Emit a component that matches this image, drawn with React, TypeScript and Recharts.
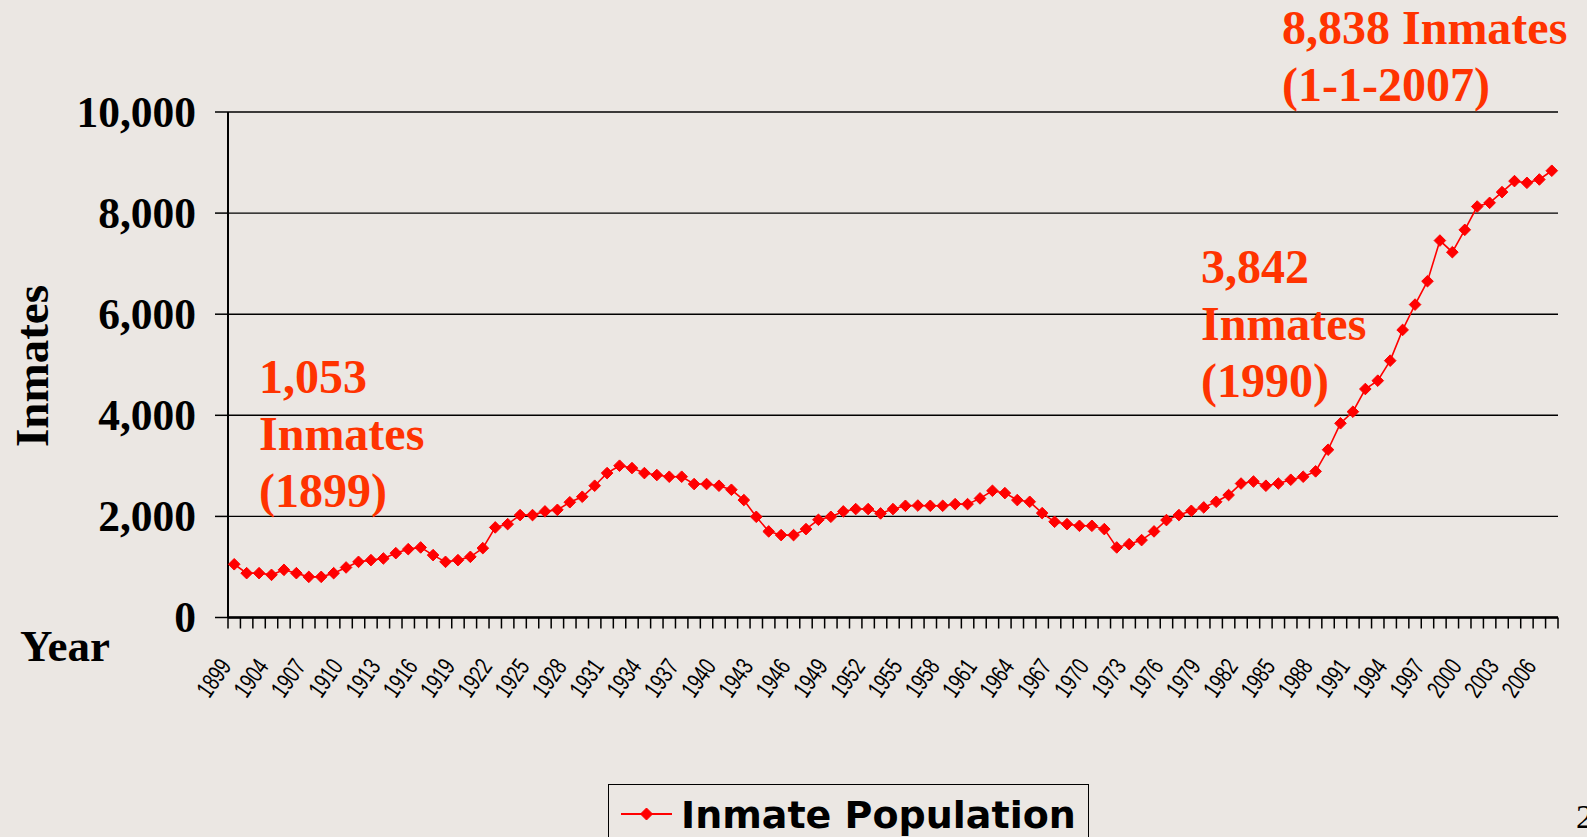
import { LineChart, Line, XAxis, YAxis, CartesianGrid, Legend } from 'recharts';

// Year categories (1900/1901 are missing from the source table)
const YEARS = [1899, 1902, 1903, ...Array.from({ length: 104 }, (_, i) => 1904 + i)];

// Inmate population per year
const INMATES = [
  1053, 877, 877, 844, 943, 877, 804, 804, 877, 990,
  1101, 1135, 1168, 1273, 1352, 1386, 1234, 1101, 1135, 1200,
  1372, 1782, 1847, 2026, 2026, 2099, 2130, 2280, 2389, 2607,
  2857, 3003, 2956, 2857, 2818, 2785, 2785, 2640, 2640, 2607,
  2527, 2323, 1992, 1703, 1630, 1630, 1749, 1933, 1992, 2099,
  2145, 2145, 2059, 2145, 2210, 2215, 2210, 2210, 2243, 2243,
  2356, 2507, 2461, 2323, 2289, 2065, 1893, 1847, 1814, 1814,
  1749, 1386, 1451, 1531, 1703, 1927, 2026, 2111, 2178, 2289,
  2422, 2650, 2690, 2607, 2650, 2725, 2785, 2891, 3319, 3842,
  4071, 4520, 4685, 5081, 5689, 6190, 6653, 7457, 7227, 7669,
  8130, 8203, 8415, 8633, 8599, 8665, 8838,
];

const Y_TICKS = [0, 2000, 4000, 6000, 8000, 10000];
const LABEL_EVERY = 3;

const NOTES = [
  { left: 259, top: 348, lines: ['1,053', 'Inmates', '(1899)'] },
  { left: 1201, top: 238, lines: ['3,842', 'Inmates', '(1990)'] },
  { left: 1282, top: -1, lines: ['8,838 Inmates', '(1-1-2007)'] },
];

const data = YEARS.map((year, i) => ({ year: String(year), inmates: INMATES[i] }));

const W = 1587;
const H = 837;
const PLOT_LEFT = 228;
const PLOT_RIGHT = 1558;
const PLOT_TOP = 112;
const PLOT_BOTTOM = 617.5;
const BAND = (PLOT_RIGHT - PLOT_LEFT) / YEARS.length;

const BG = '#EBE7E3';
const RED = '#FF0000';
const NOTE = '#FF3300';
const SERIF = '"Liberation Serif", "Times New Roman", serif';
const SANS = '"Liberation Sans", Arial, sans-serif';

function Diamond({ cx, cy, r = 5.8 }: { cx: number; cy: number; r?: number }) {
  return (
    <polygon
      points={`${cx},${cy - r} ${cx + r},${cy} ${cx},${cy + r} ${cx - r},${cy}`}
      fill={RED}
      stroke={RED}
      strokeWidth={1}
    />
  );
}

function YearTick(props: any) {
  const { x, y, payload, index } = props;
  const i = index ?? payload.index;
  const left = x - BAND / 2;
  const ax = x - 2;
  const ay = y + 49;
  return (
    <g>
      <line x1={left} x2={left} y1={y} y2={y + 11} stroke="#000" strokeWidth={1.5} />
      {i === YEARS.length - 1 && (
        <line x1={x + BAND / 2} x2={x + BAND / 2} y1={y} y2={y + 11} stroke="#000" strokeWidth={1.5} />
      )}
      {i % LABEL_EVERY === 0 && (
        <text
          x={0}
          y={0}
          textAnchor="end"
          transform={`translate(${ax} ${ay}) rotate(-55) scale(0.72 1)`}
          fontFamily={SANS}
          fontSize={25}
          fill="#000"
        >
          {payload.value}
        </text>
      )}
    </g>
  );
}

function CountTick(props: any) {
  const { x, y, payload } = props;
  return (
    <text x={x} y={y + 14.5} textAnchor="end" fontFamily={SERIF} fontWeight="bold" fontSize={43.5} fill="#000">
      {Number(payload.value).toLocaleString('en-US')}
    </text>
  );
}

function InmatesLabel() {
  return (
    <text
      x={48}
      y={366}
      textAnchor="middle"
      transform="rotate(-90 48 366)"
      fontFamily={SERIF}
      fontWeight="bold"
      fontSize={47}
      fill="#000"
    >
      Inmates
    </text>
  );
}

function LegendBox() {
  return (
    <div
      style={{
        boxSizing: 'border-box',
        width: 481,
        height: 70,
        border: '1.5px solid #000',
        position: 'relative',
      }}
    >
      <svg width={60} height={40} style={{ position: 'absolute', left: 10, top: 9 }}>
        <line x1={2} x2={53} y1={20} y2={20} stroke={RED} strokeWidth={2} />
        <Diamond cx={27.5} cy={20} r={6} />
      </svg>
      <div
        style={{
          position: 'absolute',
          left: 72,
          top: 5,
          fontFamily: '"DejaVu Sans", Verdana, sans-serif',
          fontWeight: 'bold',
          fontSize: 38,
          lineHeight: '50px',
          whiteSpace: 'nowrap',
          color: '#000',
        }}
      >
        Inmate Population
      </div>
    </div>
  );
}

export default function App() {
  return (
    <div
      style={{
        position: 'absolute',
        left: 0,
        top: 0,
        width: W,
        height: H,
        overflow: 'hidden',
        background: BG,
      }}
    >
      <LineChart
        width={W}
        height={H}
        data={data}
        margin={{ top: PLOT_TOP, right: W - PLOT_RIGHT, left: 0, bottom: H - PLOT_BOTTOM - 100 }}
      >
        <CartesianGrid vertical={false} stroke="#000" strokeWidth={1.4} />
        <XAxis
          dataKey="year"
          type="category"
          interval={0}
          height={100}
          padding={{ left: BAND / 2, right: BAND / 2 }}
          tickSize={0}
          tickMargin={0}
          tickLine={false}
          axisLine={{ stroke: '#000', strokeWidth: 2.5 }}
          tick={<YearTick />}
        />
        <YAxis
          width={PLOT_LEFT}
          domain={[0, 10000]}
          ticks={Y_TICKS}
          interval={0}
          tickSize={13}
          tickMargin={19}
          tickLine={{ stroke: '#000', strokeWidth: 1.5 }}
          axisLine={{ stroke: '#000', strokeWidth: 2 }}
          tick={<CountTick />}
          label={<InmatesLabel />}
        />
        <YAxis
          yAxisId="r"
          orientation="right"
          width={0}
          domain={[0, 10000]}
          ticks={Y_TICKS}
          tick={false}
          tickLine={false}
          axisLine={{ stroke: '#000', strokeWidth: 2 }}
        />
        <Legend
          layout="horizontal"
          verticalAlign="middle"
          align="center"
          content={() => <LegendBox />}
          wrapperStyle={{ left: 608, top: 784, width: 481, height: 70 }}
        />
        <Line
          dataKey="inmates"
          name="Inmate Population"
          stroke={RED}
          strokeWidth={1.6}
          dot={(p: any) => <Diamond key={p.index} cx={p.cx} cy={p.cy} />}
          activeDot={false}
          isAnimationActive={false}
        />
      </LineChart>

      {NOTES.map((n) => (
        <div
          key={n.lines[0]}
          style={{
            position: 'absolute',
            left: n.left,
            top: n.top,
            color: NOTE,
            fontFamily: SERIF,
            fontWeight: 'bold',
            fontSize: 48,
            lineHeight: '57px',
            whiteSpace: 'nowrap',
          }}
        >
          {n.lines.map((l) => (
            <div key={l}>{l}</div>
          ))}
        </div>
      ))}

      <div
        style={{
          position: 'absolute',
          left: 20,
          top: 621,
          fontFamily: SERIF,
          fontWeight: 'bold',
          fontSize: 45,
          lineHeight: '50px',
          color: '#000',
        }}
      >
        Year
      </div>
      <div
        style={{
          position: 'absolute',
          left: 1576,
          top: 798,
          fontFamily: SERIF,
          fontSize: 34,
          color: '#000',
        }}
      >
        2
      </div>
    </div>
  );
}
